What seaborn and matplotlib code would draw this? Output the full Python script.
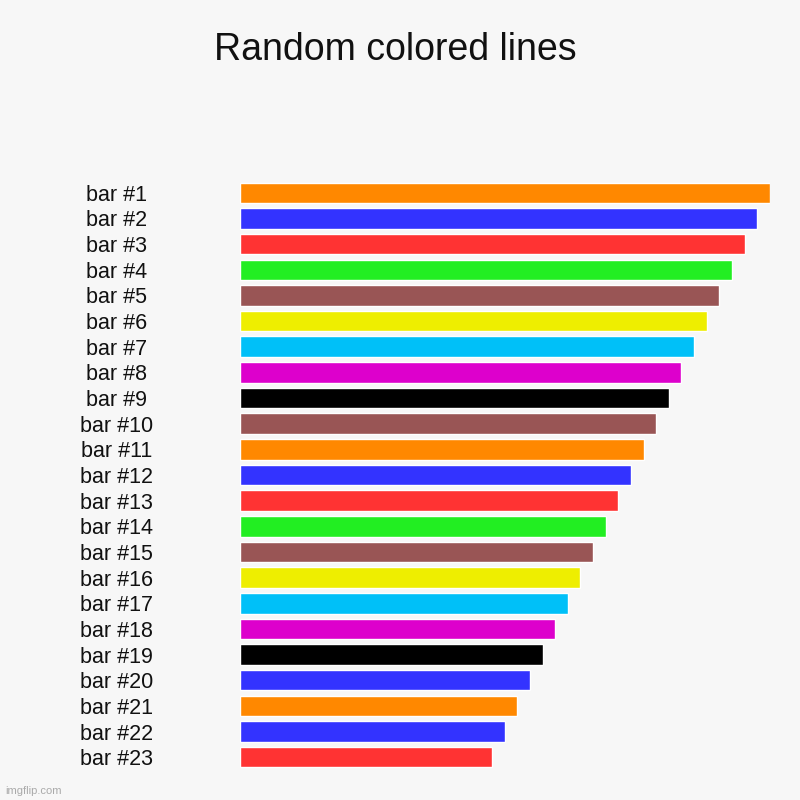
import matplotlib
matplotlib.use('Agg')
import matplotlib.pyplot as plt
import seaborn as sns
import pandas as pd

# chart data
labels = ['bar #%d' % i for i in range(1, 24)]
values = [530, 517, 505, 492, 479, 467, 454, 441, 429, 416, 404, 391,
          378, 366, 353, 340, 328, 315, 303, 290, 277, 265, 252]
colors = ['#ff8800', '#3333ff', '#ff3333', '#22ee22', '#995555', '#eeee00',
          '#00c0f8', '#dd00cc', '#000000', '#995555', '#ff8800', '#3333ff',
          '#ff3333', '#22ee22', '#995555', '#eeee00', '#00c0f8', '#dd00cc',
          '#000000', '#3333ff', '#ff8800', '#3333ff', '#ff3333']

df = pd.DataFrame({'label': labels, 'value': values})

sns.set_style('white')
plt.rcParams['font.family'] = ['Liberation Sans', 'DejaVu Sans']

bg = '#f7f7f7'
fig = plt.figure(figsize=(8, 8), dpi=100, facecolor=bg)
ax = fig.add_axes([0.2995, 0.0375, 0.663, 0.7375])
ax.set_facecolor(bg)

sns.barplot(data=df, x='value', y='label', hue='label', palette=colors,
            legend=False, width=0.8, saturation=1, ax=ax)

ax.set_xlim(0, 530)
ax.set_xlabel('')
ax.set_ylabel('')
ax.set_xticks([])
for s in ax.spines.values():
    s.set_visible(False)
ax.tick_params(axis='y', length=0, pad=88.5, labelsize=15.5, labelcolor='#111111')
for t in ax.get_yticklabels():
    t.set_ha('center')

fig.text(0.494, 0.937, 'Random colored lines', ha='center', va='center',
         fontsize=27, color='#111111')
fig.text(0.006, 0.011, 'imgflip.com', ha='left', va='center',
         fontsize=8, color='#aaaaaa')

fig.savefig('out.png', dpi=100, facecolor=bg)
